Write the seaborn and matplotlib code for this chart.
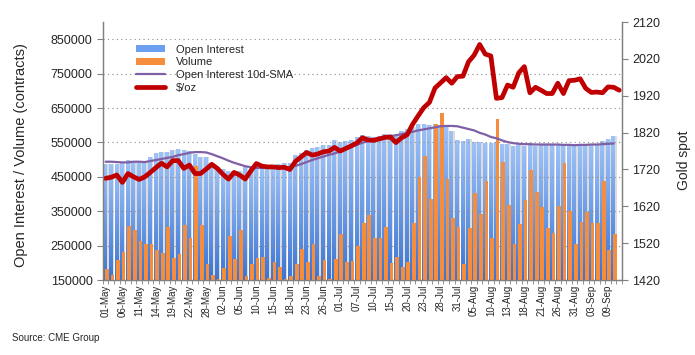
import matplotlib
matplotlib.use("Agg")
import matplotlib.pyplot as plt
import matplotlib.patches as mpatches
from matplotlib.lines import Line2D
from matplotlib.ticker import FixedLocator
from matplotlib.colors import LinearSegmentedColormap
import numpy as np
import pandas as pd
import seaborn as sns

# trading days, CME holidays removed
dates = pd.bdate_range("2020-05-01", "2020-09-11", freq="C",
                       holidays=["2020-05-25", "2020-07-03", "2020-09-07"])

# contracts (Sep 11 not yet reported)
open_interest = [
    487000, 487000, 487000, 489000, 499000, 497000, 492000, 492000, 508000, 518000,
    522000, 522000, 528000, 531000, 528000, 525000, 515000, 508000, 508000, 489000,
    479000, 473000, 468000, 465000, 468000, 479000, 481000, 480000, 481000, 479000,
    484000, 487000, 489000, 489000, 513000, 518000, 528000, 533000, 537000, 542000,
    544000, 557000, 552000, 554000, 557000, 567000, 571000, 569000, 565000, 569000,
    576000, 574000, 572000, 584000, 588000, 596000, 605000, 605000, 601000, 605000,
    600000, 596000, 582000, 557000, 554000, 560000, 551000, 550000, 547000, 547000,
    550000, 545000, 545000, 540000, 542000, 540000, 542000, 539000, 542000, 542000,
    542000, 542000, 543000, 543000, 543000, 544000, 544000, 545000, 545000, 554000,
    560000, 569000, np.nan,
]
volume = [
    183000, 165000, 209000, 232000, 307000, 296000, 264000, 255000, 255000, 237000,
    229000, 304000, 214000, 226000, 311000, 272000, 482000, 311000, 197000, 165000,
    154000, 186000, 278000, 212000, 295000, 162000, 196000, 214000, 217000, 156000,
    203000, 189000, 152000, 162000, 197000, 241000, 203000, 256000, 162000, 209000,
    152000, 211000, 285000, 203000, 206000, 250000, 317000, 340000, 273000, 273000,
    305000, 199000, 218000, 189000, 203000, 317000, 450000, 511000, 386000, 604000,
    636000, 444000, 330000, 304000, 197000, 301000, 404000, 343000, 438000, 272000,
    617000, 493000, 368000, 256000, 314000, 383000, 470000, 406000, 362000, 302000,
    287000, 365000, 490000, 350000, 256000, 319000, 349000, 316000, 316000, 438000,
    237000, 284000, np.nan,
]
oi_sma10 = [
    494000, 494000, 493000, 492000, 492000, 494000, 494000, 493000, 496000, 499000,
    502000, 505000, 508000, 513000, 516000, 520000, 522000, 522000, 521000, 516000,
    510000, 504000, 497000, 491000, 486000, 481000, 478000, 476000, 476000, 476000,
    476000, 477000, 477000, 478000, 482000, 487000, 493000, 499000, 504000, 509000,
    514000, 518000, 524000, 530000, 537000, 543000, 549000, 554000, 558000, 562000,
    565000, 568000, 571000, 574000, 578000, 581000, 585000, 588000, 591000, 594000,
    597000, 598000, 598000, 597000, 593000, 589000, 585000, 578000, 573000, 566000,
    562000, 556000, 551000, 548000, 546000, 545000, 545000, 544000, 544000, 544000,
    544000, 544000, 543000, 543000, 542000, 543000, 543000, 544000, 544000, 545000,
    546000, 547000, np.nan,
]
# $/oz
gold = [
    1696, 1699, 1705, 1685, 1709, 1700, 1693, 1700, 1712, 1725,
    1737, 1727, 1744, 1744, 1723, 1732, 1709, 1709, 1721, 1734,
    1723, 1707, 1694, 1712, 1705, 1694, 1716, 1736, 1729, 1727,
    1727, 1725, 1726, 1720, 1742, 1754, 1766, 1759, 1762, 1768,
    1770, 1780, 1770, 1777, 1784, 1792, 1806, 1800, 1799, 1803,
    1807, 1808, 1793, 1806, 1814, 1843, 1866, 1888, 1902, 1941,
    1955, 1969, 1954, 1972, 1973, 2012, 2030, 2059, 2033, 2028,
    1913, 1915, 1949, 1943, 1982, 1999, 1928, 1943, 1935, 1926,
    1926, 1954, 1926, 1961, 1962, 1966, 1940, 1929, 1930, 1928,
    1944, 1943, 1935,
]

sns.set_style("ticks")
plt.rcParams["font.family"] = ["Liberation Sans", "DejaVu Sans"]

fig = plt.figure(figsize=(6.95, 3.55), dpi=100)
ax = fig.add_axes([0.148, 0.211, 0.747, 0.727])
ax2 = ax.twinx()

x = np.arange(len(dates))
oi = np.array(open_interest, dtype=float)
vol = np.array(volume, dtype=float)
ymin, ymax = 150000, 900000

# shadow, open interest (gradient fill), volume
ax.bar(x + 0.27, oi, width=0.55, color="#dcdcdc", lw=0, zorder=1)
oi_bars = ax.bar(x - 0.1, oi, width=0.62, color="#5d93ea", lw=0, zorder=2)
blues = LinearSegmentedColormap.from_list("oi", ["#3a74d4", "#9ec3fa"])
grad = np.linspace(0, 1, 128).reshape(-1, 1)
for p in oi_bars:
    h = p.get_height()
    if not np.isfinite(h):
        continue
    im = ax.imshow(grad, extent=[p.get_x(), p.get_x() + p.get_width(), ymin, h],
                   origin="lower", aspect="auto", cmap=blues, zorder=2.1)
    im.set_clip_path(p)
ax.bar(x + 0.22, vol, width=0.66, color="#f68d3c", lw=0, zorder=3)
sns.lineplot(x=x, y=oi_sma10, ax=ax, color="#7f5fa6", lw=1.6, zorder=4)
sns.lineplot(x=x, y=gold, ax=ax2, color="#c00000", lw=3.4)

ax.set_xlim(-0.5, len(dates) - 0.5)
ax.set_ylim(ymin, ymax)
ax2.set_ylim(1420, 2120)
ax.set_yticks(np.arange(150000, 850001, 100000))
ax.set_yticklabels([str(v) for v in range(150000, 850001, 100000)])
ax2.set_yticks(np.arange(1420, 2121, 100))

ax.set_xticks(x[::3])
ax.set_xticklabels([d.strftime("%d-%b") for d in dates[::3]], rotation=90, fontsize=7)
ax.xaxis.set_minor_locator(FixedLocator(np.arange(len(dates) + 1) - 0.5))
ax.tick_params(axis="x", which="major", length=0, pad=3)
ax.tick_params(axis="x", which="minor", length=3, color="#808080")
ax.tick_params(axis="y", length=4, color="#808080", labelsize=9)
ax2.tick_params(axis="y", length=4, color="#808080", labelsize=9)

ax.yaxis.grid(True, linestyle=(0, (1, 3)), color="#8c8c8c", lw=0.8)
ax.set_axisbelow(False)

for a in (ax, ax2):
    a.spines["top"].set_visible(False)
    for s in ("left", "right", "bottom"):
        a.spines[s].set_color("#808080")
        a.spines[s].set_linewidth(0.9)

ax.set_ylabel("Open Interest / Volume (contracts)", fontsize=10.5)
ax.yaxis.set_label_coords(-0.145, 0.485)
ax2.set_ylabel("Gold spot", fontsize=10, rotation=90)
ax2.yaxis.set_label_coords(1.106, 0.465)
ax.set_xlabel("")

handles = [
    mpatches.Patch(color="#6c9ff0", lw=0),
    mpatches.Patch(color="#f68d3c", lw=0),
    Line2D([], [], color="#7f5fa6", lw=1.6),
    Line2D([], [], color="#c00000", lw=3.4),
]
labels = ["Open Interest", "Volume", "Open Interest 10d-SMA", "$/oz"]
ax2.legend(handles, labels, loc="upper left", bbox_to_anchor=(0.055, 0.93),
           frameon=False, fontsize=8, handlelength=2.6, handleheight=0.6,
           labelspacing=0.25, borderaxespad=0, handletextpad=1.0)

fig.text(0.017, 0.048, "Source: CME Group", fontsize=7, va="center")

fig.savefig("out.png", dpi=100)
